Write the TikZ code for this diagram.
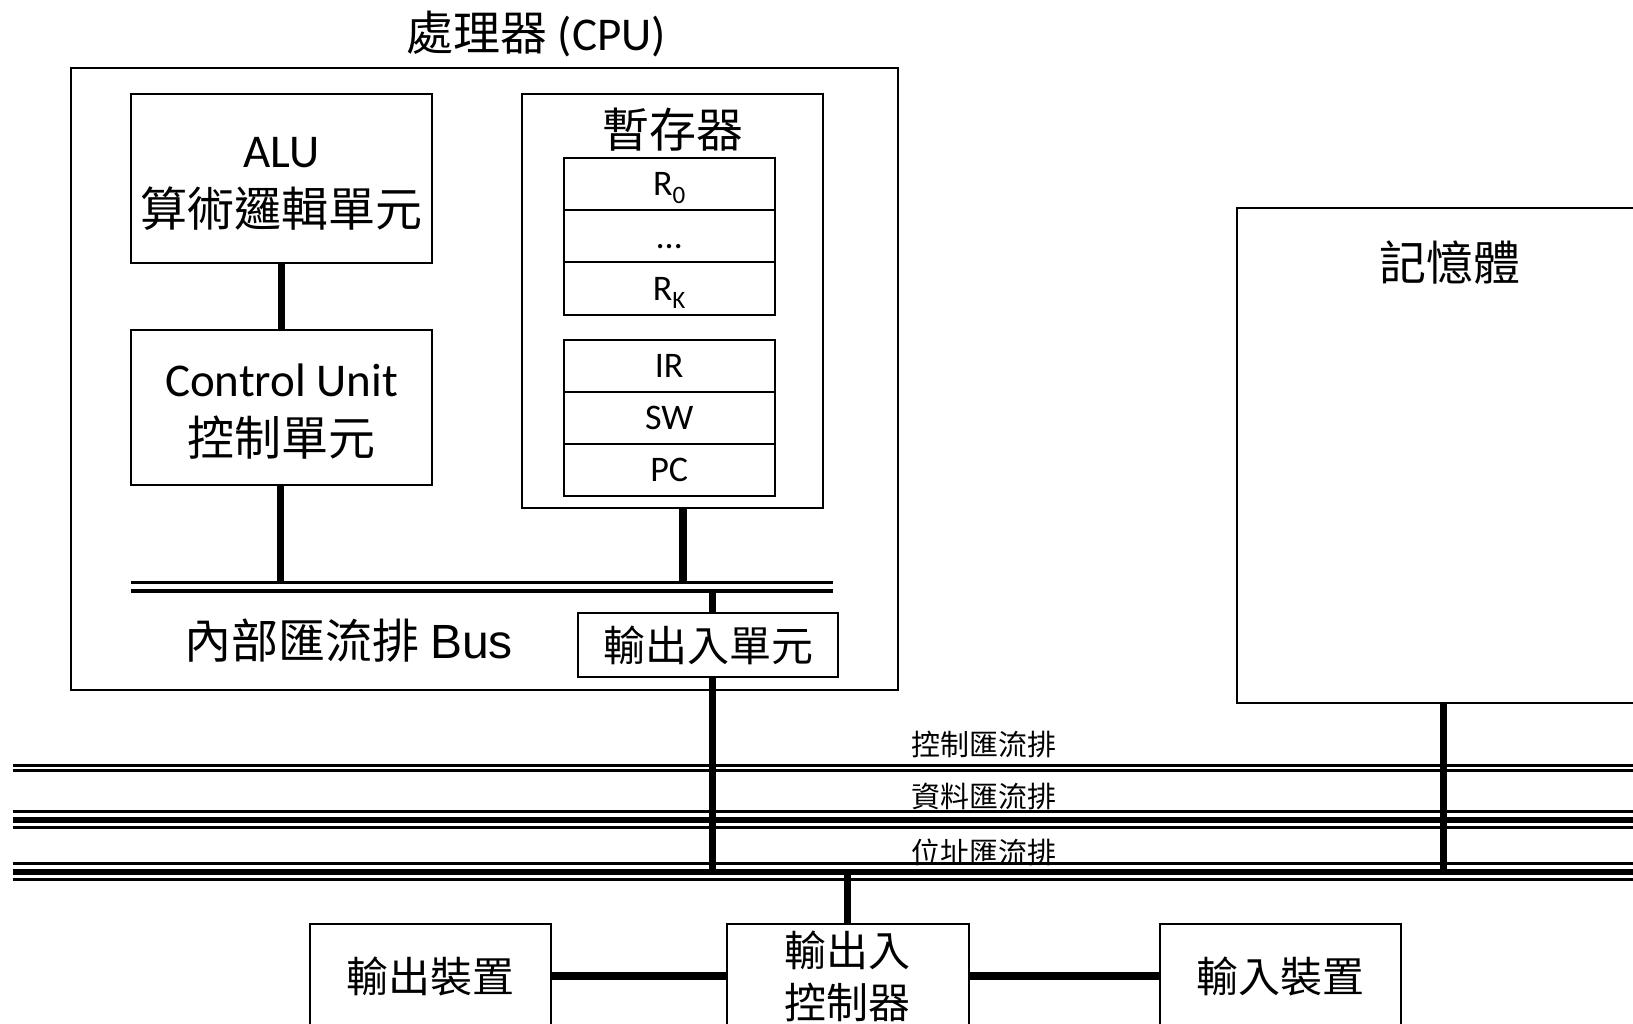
\documentclass[tikz,border=0pt]{standalone}
\usepackage{fontspec}
\setmainfont{Carlito}
\newfontfamily\cjk{Noto Sans CJK TC}
\newfontfamily\arialf{Liberation Sans}
\newcommand\fsz[2]{\fontsize{#1}{#2}\selectfont}
\newcommand\subsc[1]{\raisebox{-8pt}{\fsz{25}{25}#1}}
\begin{document}
\begin{tikzpicture}[x=1pt,y=-1pt,
  box/.style={draw, line width=2pt, inner sep=0pt, align=center},
  cell/.style={draw, line width=2pt, inner sep=0pt, minimum width=211.4pt, minimum height=52.1pt, text height=23.2pt, text depth=0pt, font=\fsz{36}{43}},
  conn/.style={line width=7.3pt},
  hconn/.style={line width=8pt},
  thinbus/.style={line width=3pt},
  thickbus/.style={line width=6pt},
  buslabel/.style={font=\cjk\fsz{29}{34}}]
\useasboundingbox (0,0) rectangle (1633,1024);
\clip (0,0) rectangle (1633,1024);
\fill[white] (0,0) rectangle (1633,1024);

% CPU
\node[font=\fsz{47}{56}] (title) at (536,34) {{\cjk 處理器} (CPU)};
\node[box, minimum width=827pt, minimum height=621.8pt] (cpu) at (484.3,378.6) {};
\node[box, minimum width=301pt, minimum height=169.8pt, font=\fsz{47}{59}] (alu) at (281.7,178.6) {};
\node[font=\fsz{47}{59}, align=center, yshift=-5.5pt] (alut) at (alu.center) {ALU\\{\cjk 算術邏輯單元}};
\node[box, minimum width=301pt, minimum height=155.1pt] (cu) at (281.7,407.75) {};
\node[font=\fsz{47}{59}, align=center, yshift=-4.2pt] (cut) at (cu.center) {Control Unit\\{\cjk 控制單元}};
\node[box, minimum width=301pt, minimum height=414.6pt] (regs) at (672.3,301) {};
\node[font=\cjk\fsz{47}{56}] (regt) at (673,130) {暫存器};
\node[cell] (r0) at (669.2,184.35) {R\subsc{0}};
\node[cell] (rd) at (669.2,236.45) {…};
\node[cell] (rk) at (669.2,288.5) {R\subsc{K}};
\node[cell] (ir) at (669.2,365.55) {IR};
\node[cell] (sw) at (669.2,417.65) {SW};
\node[cell] (pc) at (669.2,469.75) {PC};
\node[box, minimum width=260.4pt, minimum height=63.6pt, font=\cjk\fsz{42}{50}] (iou) at (708.2,645.2) {輸出入單元};
\node[font=\fsz{47}{56}] (iblabel) at (348.8,640.5) {{\cjk 內部匯流排} {\arialf\fsz{48}{56}Bus}};

% internal bus
\coordinate (ibT) at (0,582.3);
\coordinate (rb) at (683,583);
\coordinate (ib2) at (712.7,591);
\draw[thinbus, line width=3.3pt] (131.2,582.3) -- (833.2,582.3);
\draw[thinbus, line width=4pt] (131.2,591.3) -- (833.2,591.3);
\draw[conn] (alu.south) -- (cu.north);
\draw[conn] ([xshift=-1pt]cu.south) -- ([xshift=-1pt]cu.south |- ibT);
\draw[conn] (regs.south -| rb) -- (rb);
\draw[conn] (ib2) -- (ib2 |- iou.north);

% memory
\node[box, minimum width=425pt, minimum height=494.7pt] (mem) at (1449.8,455.65) {};
\node[font=\cjk\fsz{47}{56}] (memt) at (1449.8,262.5) {記憶體};
\coordinate (mline) at (1443.5,0);

% system buses
\coordinate (abus) at (0,871.7);
\draw[thinbus, line width=2.7pt] (12.5,765.3) -- (1640,765.3);
\draw[thinbus, line width=2.7pt] (12.5,770.7) -- (1640,770.7);
\draw[thinbus] (12.5,811.8) -- (1640,811.8);
\draw[thickbus] (12.5,820) -- (1640,820);
\draw[thinbus, line width=3.3pt] (12.5,827.7) -- (1640,827.7);
\draw[thinbus, line width=3.3pt] (12.5,863.7) -- (1640,863.7);
\draw[thickbus] (12.5,871.7) -- (1640,871.7);
\draw[thinbus, line width=3.6pt] (12.5,879.5) -- (1640,879.5);
\node[buslabel] (lc) at (984,744.7) {控制匯流排};
\node[buslabel] (ld) at (984,796.7) {資料匯流排};
\node[buslabel] (la) at (984,852) {位址匯流排};

\draw[conn] (ib2 |- iou.south) -- (ib2 |- abus);
\draw[conn] (mem.south -| mline) -- (mline |- abus);

% devices
\node[box, minimum width=240.6pt, minimum height=104.4pt, font=\cjk\fsz{42}{52}] (out) at (430.7,976) {輸出裝置};
\node[box, minimum width=241.6pt, minimum height=104.4pt, font=\cjk\fsz{42}{52}] (ctrl) at (847.8,976) {輸出入\\控制器};
\node[box, minimum width=240.6pt, minimum height=104.4pt, font=\cjk\fsz{42}{52}] (in) at (1280.5,976) {輸入裝置};
\draw[conn] (ctrl.north |- abus) -- (ctrl.north);
\draw[hconn] (out.east) -- (ctrl.west);
\draw[hconn] (ctrl.east) -- (in.west);
\end{tikzpicture}
\end{document}
